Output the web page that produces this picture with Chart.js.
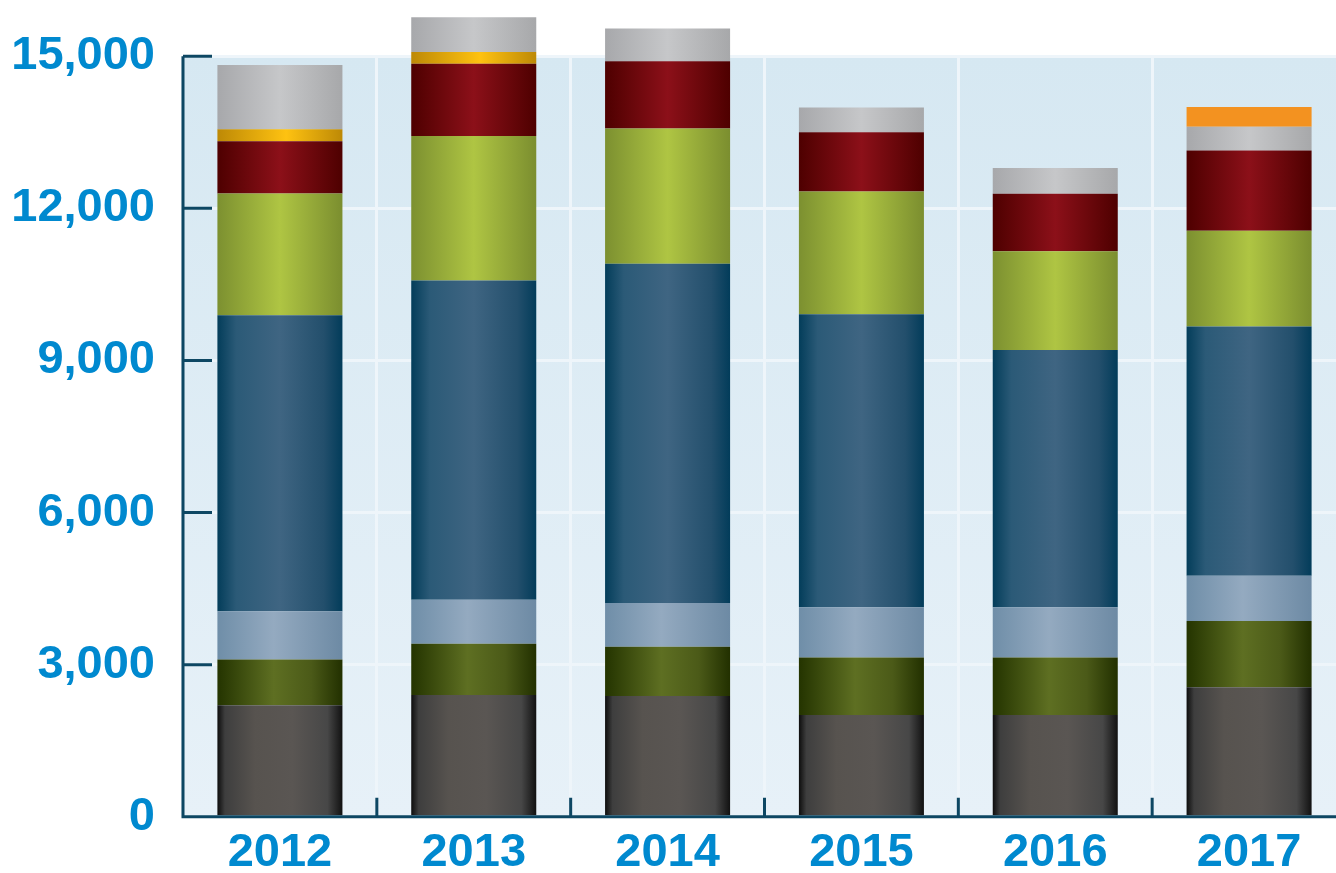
<!DOCTYPE html>
<html>
<head>
<meta charset="utf-8">
<script src="https://cdn.jsdelivr.net/npm/chart.js@4/dist/chart.umd.min.js"></script>
<style>
  html, body { margin:0; padding:0; background:#fff; overflow:hidden; }
  #wrap { width:1346px; height:873px; }
</style>
</head>
<body>
<div id="wrap"><canvas id="chart" width="1346" height="873"></canvas></div>
<script>
// chart data
const years = ["2012", "2013", "2014", "2015", "2016", "2017"];
const yTicks = [0, 3000, 6000, 9000, 12000, 15000];

const grayBase = [2200, 2400, 2380, 2010, 2010, 2555];
const olive    = [900, 1015, 975, 1130, 1130, 1305];
const steel    = [955, 865, 860, 995, 995, 895];
const navy     = [5835, 6295, 6690, 5775, 5070, 4915];
const lime     = [2400, 2850, 2670, 2420, 1950, 1890];
const crimson  = [1035, 1425, 1325, 1170, 1130, 1580];
const gold     = [235, 235, 0, 0, 0, 0];
const silver   = [1265, 685, 645, 490, 510, 470];
const orange   = [0, 0, 0, 0, 0, 390];

const BAR_PCT = 0.645;
const AXIS = "#0d4763";
const LABEL = "#0089cf";
const FONT = { family: "'Liberation Sans', Arial, sans-serif", size: 47, weight: "bold" };

// horizontal "cylinder" shading for each bar
function barGrad(stops){
  return (c)=>{
    const chart = c.chart, area = chart.chartArea;
    if(!area || !chart.scales.x) return stops[Math.floor(stops.length/2)][1];
    const x = chart.scales.x;
    const mid = x.getPixelForValue(c.dataIndex);
    const hw = (x.width / years.length) * BAR_PCT / 2;
    const g = chart.ctx.createLinearGradient(mid - hw, 0, mid + hw, 0);
    stops.forEach(s=>g.addColorStop(s[0], s[1]));
    return g;
  };
}

const series = [
  { data: grayBase, fill: barGrad([[0,"#0d0d0d"],[0.06,"#3e3e3e"],[0.3,"#57534f"],[0.6,"#5a5653"],[0.88,"#474747"],[1,"#111"]]) },
  { data: olive,    fill: barGrad([[0,"#243400"],[0.45,"#5e6f22"],[0.75,"#4b5a18"],[1,"#223000"]]) },
  { data: steel,    fill: barGrad([[0,"#6f8ea8"],[0.45,"#94aac0"],[1,"#6d8aa4"]]) },
  { data: navy,     fill: barGrad([[0,"#033d5a"],[0.15,"#2b5a77"],[0.5,"#3f6582"],[0.85,"#234f6c"],[1,"#023c5a"]]) },
  { data: lime,     fill: barGrad([[0,"#7c9030"],[0.5,"#afc543"],[1,"#7b8e2f"]]) },
  { data: crimson,  fill: barGrad([[0,"#4e0000"],[0.5,"#8c1019"],[1,"#4e0000"]]) },
  { data: gold,     fill: barGrad([[0,"#bd8906"],[0.55,"#fec211"],[1,"#bd8906"]]) },
  { data: silver,   fill: barGrad([[0,"#a7a8ab"],[0.5,"#c6c7c9"],[1,"#a7a8aa"]]) },
  { data: orange,   fill: "#f39220" }
];

// plot background
const plotBg = {
  id: "plotBg",
  beforeDraw(chart){
    const {ctx, chartArea:a} = chart;
    const g = ctx.createLinearGradient(0, a.top, 0, a.bottom);
    g.addColorStop(0, "#d6e8f2");
    g.addColorStop(1, "#e7f1f8");
    ctx.save();
    ctx.fillStyle = g;
    ctx.fillRect(a.left, a.top, a.right - a.left, a.bottom - a.top);
    ctx.restore();
  }
};

// axis lines with inward ticks
const axes = {
  id: "axes",
  afterDatasetsDraw(chart){
    const {ctx, chartArea:a, scales:{x, y}} = chart;
    ctx.save();
    ctx.strokeStyle = AXIS;
    ctx.lineWidth = 3;
    ctx.beginPath();
    ctx.moveTo(a.left, a.top); ctx.lineTo(a.left, a.bottom); ctx.lineTo(a.right, a.bottom);
    yTicks.forEach(v=>{
      const py = y.getPixelForValue(v);
      ctx.moveTo(a.left, py); ctx.lineTo(a.left + 29, py);
    });
    const step = x.width / years.length;
    for(let i=1;i<years.length;i++){
      const px = a.left + step*i;
      ctx.moveTo(px, a.bottom); ctx.lineTo(px, a.bottom - 19);
    }
    ctx.stroke();
    ctx.restore();
  }
};

new Chart(document.getElementById("chart"), {
  type: "bar",
  data: {
    labels: years,
    datasets: series.map(s=>({ data: s.data, backgroundColor: s.fill, borderWidth: 0, clip: false,
      categoryPercentage: 1, barPercentage: BAR_PCT }))
  },
  options: {
    responsive: false,
    animation: false,
    layout: { padding: { top: 53, right: 0, left: 0, bottom: 0 } },
    plugins: { legend: { display: false }, tooltip: { enabled: false } },
    scales: {
      x: {
        stacked: true,
        grid: { offset: true, color: "#eef5fa", lineWidth: 3, drawTicks: false },
        border: { display: false },
        ticks: { color: LABEL, font: FONT, padding: 8, maxRotation: 0, autoSkip: false },
        afterFit: (s)=>{ s.height = 51; }
      },
      y: {
        stacked: true,
        min: 0, max: 15000,
        grid: { color: "#eef5fa", lineWidth: 3, drawTicks: false },
        border: { display: false },
        afterBuildTicks: (s)=>{ s.ticks = yTicks.map(v=>({ value: v })); },
        ticks: { color: LABEL, font: FONT, padding: 28, callback: v=>v.toLocaleString("en-US") },
        afterFit: (s)=>{ s.width = 183; }
      }
    }
  },
  plugins: [plotBg, axes]
});
</script>
</body>
</html>
